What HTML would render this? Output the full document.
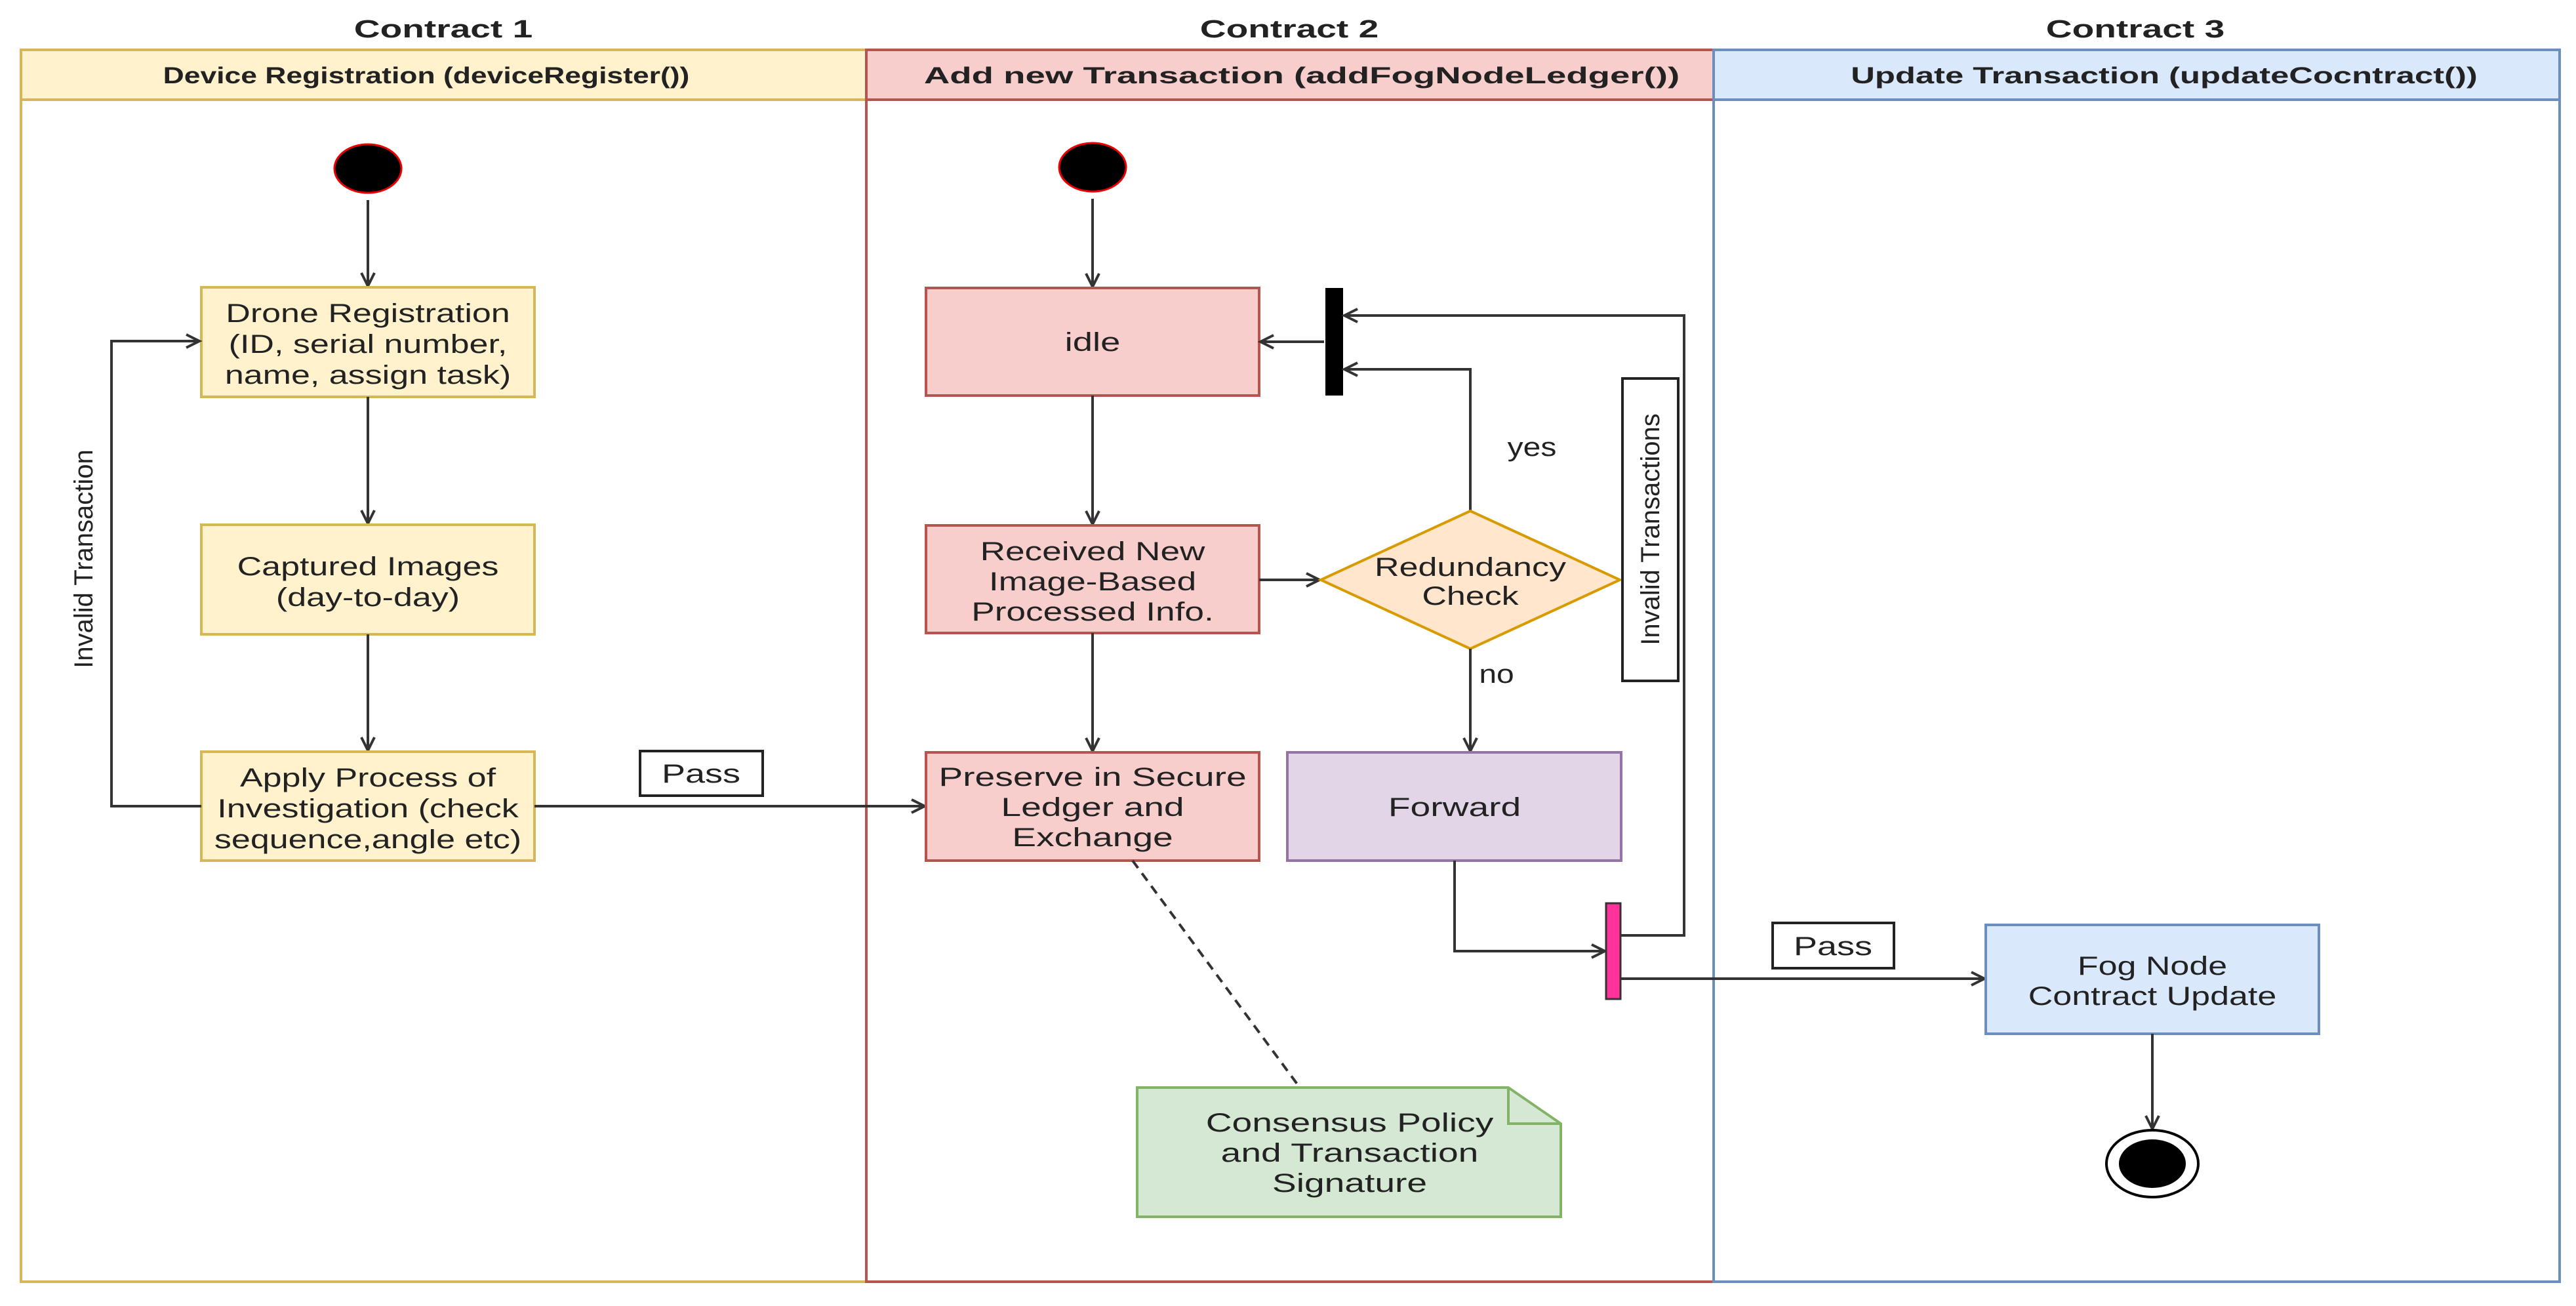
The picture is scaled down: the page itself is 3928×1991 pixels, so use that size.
<!DOCTYPE html>
<html><head><meta charset="utf-8"><style>
html,body{margin:0;padding:0;background:#fff;}
svg{display:block;}
text{font-family:"Liberation Sans",sans-serif;fill:#222;}
</style></head><body>
<svg width="3928" height="1991" viewBox="0 0 3928 1991" xmlns="http://www.w3.org/2000/svg">
<defs>
<marker id="a" markerWidth="30" markerHeight="30" refX="22" refY="12" orient="auto" markerUnits="userSpaceOnUse">
<path d="M2,2 L22,12 L2,22" fill="none" stroke="#333" stroke-width="4"/>
</marker>
</defs>
<g font-size="38" font-weight="bold" text-anchor="middle">
<text transform="translate(676,57) scale(1.45 1)">Contract 1</text>
<text transform="translate(1966,57) scale(1.45 1)">Contract 2</text>
<text transform="translate(3256,57) scale(1.45 1)">Contract 3</text>
</g>
<rect x="32" y="152" width="1289" height="1802" fill="#fff" stroke="#d6b656" stroke-width="4"/>
<rect x="32" y="76" width="1289" height="76" fill="#fff2cc" stroke="#d6b656" stroke-width="4"/>
<rect x="1321" y="152" width="1292" height="1802" fill="#fff" stroke="#b85450" stroke-width="4"/>
<rect x="1321" y="76" width="1292" height="76" fill="#f8cecc" stroke="#b85450" stroke-width="4"/>
<rect x="2613" y="152" width="1290" height="1802" fill="#fff" stroke="#6c8ebf" stroke-width="4"/>
<rect x="2613" y="76" width="1290" height="76" fill="#dae8fc" stroke="#6c8ebf" stroke-width="4"/>
<g font-size="35" font-weight="bold" text-anchor="middle">
<text transform="translate(650,127) scale(1.27 1)">Device Registration (deviceRegister())</text>
<text transform="translate(1985,127) scale(1.56 1)">Add new Transaction (addFogNodeLedger())</text>
<text transform="translate(3300,127) scale(1.45 1)">Update Transaction (updateCocntract())</text>
</g>

<ellipse cx="561" cy="257" rx="51" ry="37" fill="#000" stroke="#e00" stroke-width="3"/>
<line x1="561" y1="305" x2="561" y2="436" stroke="#333" stroke-width="4" marker-end="url(#a)"/>
<rect x="307" y="438" width="508" height="167" fill="#fff2cc" stroke="#d6b656" stroke-width="4"/>
<line x1="561" y1="605" x2="561" y2="798" stroke="#333" stroke-width="4" marker-end="url(#a)"/>
<rect x="307" y="800" width="508" height="167" fill="#fff2cc" stroke="#d6b656" stroke-width="4"/>
<line x1="561" y1="967" x2="561" y2="1144" stroke="#333" stroke-width="4" marker-end="url(#a)"/>
<rect x="307" y="1146" width="508" height="166" fill="#fff2cc" stroke="#d6b656" stroke-width="4"/>
<polyline points="307,1229 170,1229 170,520 304,520" fill="none" stroke="#333" stroke-width="4" marker-end="url(#a)"/>
<line x1="815" y1="1229" x2="1410" y2="1229" stroke="#333" stroke-width="4" marker-end="url(#a)"/>
<rect x="976" y="1145" width="187" height="68" fill="#fff" stroke="#222" stroke-width="4"/>
<g font-size="40" text-anchor="middle">
<text transform="translate(561,491) scale(1.3 1)">Drone Registration</text>
<text transform="translate(561,538) scale(1.3 1)">(ID, serial number,</text>
<text transform="translate(561,585) scale(1.3 1)">name, assign task)</text>
<text transform="translate(561,877) scale(1.3 1)">Captured Images</text>
<text transform="translate(561,924) scale(1.3 1)">(day-to-day)</text>
<text transform="translate(561,1199) scale(1.3 1)">Apply Process of</text>
<text transform="translate(561,1246) scale(1.3 1)">Investigation (check</text>
<text transform="translate(561,1293) scale(1.3 1)">sequence,angle etc)</text>
<text transform="translate(1069,1193) scale(1.35 1)">Pass</text>
<text transform="translate(141,852) rotate(-90) scale(1.0 1)">Invalid Transaction</text>
</g>

<ellipse cx="1666" cy="255" rx="51" ry="37" fill="#000" stroke="#e00" stroke-width="3"/>
<line x1="1666" y1="303" x2="1666" y2="437" stroke="#333" stroke-width="4" marker-end="url(#a)"/>
<rect x="1412" y="439" width="508" height="164" fill="#f8cecc" stroke="#b85450" stroke-width="4"/>
<line x1="1666" y1="603" x2="1666" y2="799" stroke="#333" stroke-width="4" marker-end="url(#a)"/>
<rect x="1412" y="801" width="508" height="164" fill="#f8cecc" stroke="#b85450" stroke-width="4"/>
<line x1="1666" y1="965" x2="1666" y2="1145" stroke="#333" stroke-width="4" marker-end="url(#a)"/>
<rect x="1412" y="1147" width="508" height="165" fill="#f8cecc" stroke="#b85450" stroke-width="4"/>
<rect x="2021" y="439" width="27" height="164" fill="#000"/>
<line x1="2019" y1="521" x2="1922" y2="521" stroke="#333" stroke-width="4" marker-end="url(#a)"/>
<polyline points="2242,779 2242,563 2050,563" fill="none" stroke="#333" stroke-width="4" marker-end="url(#a)"/>
<polyline points="2472,1426 2568,1426 2568,481 2050,481" fill="none" stroke="#333" stroke-width="4" marker-end="url(#a)"/>
<line x1="1920" y1="884" x2="2012" y2="884" stroke="#333" stroke-width="4" marker-end="url(#a)"/>
<polygon points="2242,779 2470,884 2242,989 2014,884" fill="#ffe6cc" stroke="#d79b00" stroke-width="4"/>
<line x1="2242" y1="989" x2="2242" y2="1145" stroke="#333" stroke-width="4" marker-end="url(#a)"/>
<rect x="1963" y="1147" width="509" height="165" fill="#e1d5e7" stroke="#9673a6" stroke-width="4"/>
<rect x="2474" y="577" width="85" height="461" fill="#fff" stroke="#222" stroke-width="4"/>
<polyline points="2218,1312 2218,1450 2447,1450" fill="none" stroke="#333" stroke-width="4" marker-end="url(#a)"/>
<rect x="2449" y="1377" width="22" height="146" fill="#ff3399" stroke="#333" stroke-width="3"/>
<line x1="1727" y1="1312" x2="1982" y2="1658" stroke="#333" stroke-width="4" stroke-dasharray="14,10"/>
<path d="M1734,1658 L2300,1658 L2380,1713 L2380,1855 L1734,1855 Z" fill="#d5e8d4" stroke="#82b366" stroke-width="4"/>
<path d="M2300,1658 L2300,1713 L2380,1713" fill="none" stroke="#82b366" stroke-width="4"/>
<g font-size="40" text-anchor="middle">
<text transform="translate(1666,535) scale(1.36 1)">idle</text>
<text transform="translate(1666,854) scale(1.33 1)">Received New</text>
<text transform="translate(1666,900) scale(1.33 1)">Image-Based</text>
<text transform="translate(1666,946) scale(1.33 1)">Processed Info.</text>
<text transform="translate(1666,1198) scale(1.38 1)">Preserve in Secure</text>
<text transform="translate(1666,1244) scale(1.38 1)">Ledger and</text>
<text transform="translate(1666,1290) scale(1.38 1)">Exchange</text>
<text transform="translate(2218,1244) scale(1.38 1)">Forward</text>
<text transform="translate(2242,878) scale(1.3 1)">Redundancy</text>
<text transform="translate(2242,922) scale(1.3 1)">Check</text>
<text transform="translate(2336,695) scale(1.2 1)">yes</text>
<text transform="translate(2282,1041) scale(1.2 1)">no</text>
<text transform="translate(2530,807) rotate(-90) scale(1.0 1)">Invalid Transactions</text>
<text transform="translate(2058,1725) scale(1.38 1)">Consensus Policy</text>
<text transform="translate(2058,1771) scale(1.38 1)">and Transaction</text>
<text transform="translate(2058,1817) scale(1.38 1)">Signature</text>
</g>

<line x1="2471" y1="1492" x2="3026" y2="1492" stroke="#333" stroke-width="4" marker-end="url(#a)"/>
<rect x="2703" y="1407" width="185" height="69" fill="#fff" stroke="#222" stroke-width="4"/>
<rect x="3028" y="1410" width="508" height="166" fill="#dae8fc" stroke="#6c8ebf" stroke-width="4"/>
<line x1="3282" y1="1576" x2="3282" y2="1721" stroke="#333" stroke-width="4" marker-end="url(#a)"/>
<ellipse cx="3282" cy="1774" rx="70" ry="51" fill="#fff" stroke="#000" stroke-width="4"/>
<ellipse cx="3282" cy="1774" rx="51" ry="37" fill="#000"/>
<g font-size="40" text-anchor="middle">
<text transform="translate(2795,1456) scale(1.35 1)">Pass</text>
<text transform="translate(3282,1486) scale(1.3 1)">Fog Node</text>
<text transform="translate(3282,1532) scale(1.3 1)">Contract Update</text>
</g>
</svg>
</body></html>
